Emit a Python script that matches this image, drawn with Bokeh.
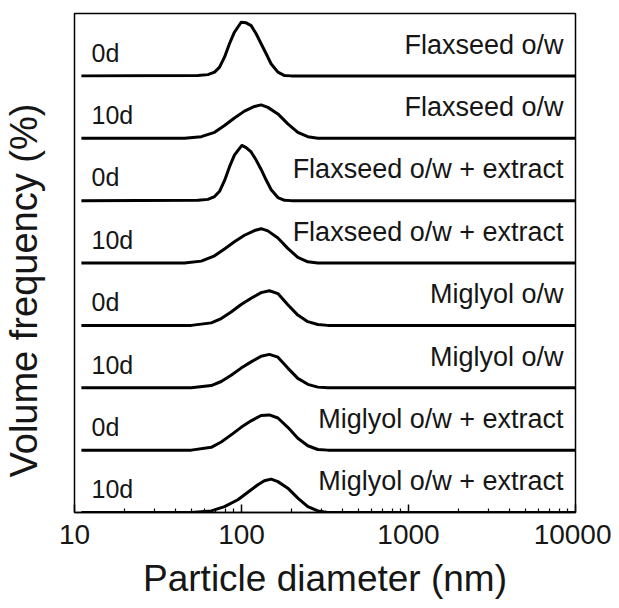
from bokeh.plotting import figure
from bokeh.models import FixedTicker, PrintfTickFormatter, Title
from bokeh.core.properties import value
from bokeh.embed import file_html
from bokeh.resources import INLINE

# ---- data ----
days = ["0d", "10d", "0d", "10d", "0d", "10d", "0d", "10d"]
samples = ["Flaxseed o/w", "Flaxseed o/w",
           "Flaxseed o/w + extract", "Flaxseed o/w + extract",
           "Miglyol o/w", "Miglyol o/w",
           "Miglyol o/w + extract", "Miglyol o/w + extract"]

d_flax_0d = [11, 54.8, 62.9, 69.0, 73.9, 79.1, 84.7, 90.7, 99.5, 106.6, 114.2,
             122.4, 131.1, 140.5, 150.6, 165.2, 180.9, 198.3, 10000]
f_flax_0d = [0, 0.1, 0.4, 1.2, 2.8, 6.0, 10.3, 14.0, 17.2, 17.0, 16.1,
             13.5, 10.3, 7.1, 3.8, 1.2, 0.1, 0, 0]

d_flax_10d = [11, 45.6, 57.4, 69.0, 79.1, 90.7, 104.2, 119.6, 131.1, 143.8,
              165.2, 189.4, 217.4, 249.5, 286.4, 10000]
f_flax_10d = [0, 0, 0.5, 1.9, 4.1, 6.5, 8.7, 10.2, 10.7, 9.9,
              7.8, 4.6, 1.9, 0.5, 0, 0]

d_flaxext_0d = [11, 54.8, 62.9, 69.0, 73.9, 79.1, 84.7, 90.7, 100.5, 106.6, 114.2,
                122.4, 131.1, 140.5, 150.6, 165.2, 180.9, 198.3, 10000]
f_flaxext_0d = [0, 0.1, 0.4, 1.3, 3.0, 6.4, 10.8, 14.6, 17.7, 17.0, 15.6,
                13.0, 10.0, 6.6, 3.5, 1.0, 0.1, 0, 0]

d_flaxext_10d = [11, 45.6, 57.4, 69.0, 79.1, 90.7, 104.2, 119.6, 131.1, 143.8,
                 165.2, 189.4, 217.4, 249.5, 286.4, 10000]
f_flaxext_10d = [0, 0, 0.6, 2.3, 4.5, 6.8, 8.9, 10.4, 11.0, 10.3,
                 8.0, 4.7, 1.8, 0.4, 0, 0]

d_mig_0d = [11, 50.0, 65.9, 75.6, 86.7, 99.5, 114.2, 131.1, 146.9, 165.2,
            189.4, 217.4, 249.5, 286.4, 328.2, 10000]
f_mig_0d = [0, 0, 0.8, 2.2, 4.3, 6.7, 8.7, 10.5, 11.1, 10.2,
            6.6, 3.3, 1.2, 0.3, 0, 0]

d_mig_10d = [11, 50.0, 65.9, 75.6, 86.7, 99.5, 114.2, 131.1, 146.9, 165.2,
             189.4, 217.4, 249.5, 286.4, 328.2, 10000]
f_mig_10d = [0, 0, 0.7, 2.0, 4.0, 6.3, 8.3, 10.1, 10.7, 9.8,
             6.3, 3.0, 1.1, 0.2, 0, 0]

d_migext_0d = [11, 50.0, 65.9, 75.6, 86.7, 99.5, 114.2, 131.1, 146.9, 165.2,
               189.4, 217.4, 249.5, 286.4, 328.2, 10000]
f_migext_0d = [0, 0, 0.9, 2.6, 4.9, 7.3, 9.4, 11.1, 11.3, 10.3,
               7.3, 3.8, 1.4, 0.2, 0, 0]

d_migext_10d = [11, 50.0, 65.9, 79.1, 95.1, 109.2, 125.3, 137.1, 150.6, 165.2,
                189.4, 217.4, 249.5, 286.4, 328.2, 10000]
f_migext_10d = [0, 0, 0.5, 1.9, 4.1, 6.5, 8.9, 10.2, 10.7, 9.9,
                7.8, 4.6, 1.9, 0.5, 0, 0]

series = [(d_flax_0d, f_flax_0d), (d_flax_10d, f_flax_10d),
          (d_flaxext_0d, f_flaxext_0d), (d_flaxext_10d, f_flaxext_10d),
          (d_mig_0d, f_mig_0d), (d_mig_10d, f_mig_10d),
          (d_migext_0d, f_migext_0d), (d_migext_10d, f_migext_10d)]

x_ticks = [10, 100, 1000, 10000]
panel_step = 20.0
n = len(series)

FONT = "Liberation Sans"
TXT = "#161616"

p = figure(width=611, height=608, x_axis_type="log",
           x_range=(10, 10000), y_range=(0, n * panel_step),
           output_backend="svg", toolbar_location=None,
           min_border_left=73, min_border_right=36,
           min_border_top=13, min_border_bottom=96)

for i, (d, f) in enumerate(series):
    base = (n - 1 - i) * panel_step
    p.line(d, [base + v for v in f], line_color="black", line_width=3,
           line_join="round")

mids = [(n - 1 - i) * panel_step + panel_step / 2 for i in range(n)]
p.text(x=[10] * n, y=mids, text=days, x_offset=17, y_offset=8,
       text_font=value(FONT), text_font_size="25px", text_color=TXT,
       text_align="left", text_baseline="middle")
p.text(x=[10000] * n, y=mids, text=samples, x_offset=-12, y_offset=0,
       text_font=value(FONT), text_font_size="27px", text_color=TXT,
       text_align="right", text_baseline="middle")

minor = [m * 10 ** e for e in range(1, 4) for m in range(2, 10)]
ax = p.xaxis[0]
ax.ticker = FixedTicker(ticks=x_ticks, minor_ticks=minor)
ax.formatter = PrintfTickFormatter(format="%d")
ax.major_tick_in = 8
ax.major_tick_out = 0
ax.minor_tick_in = 4
ax.minor_tick_out = 0
ax.major_tick_line_width = 1.5
ax.minor_tick_line_width = 1.2
ax.axis_line_width = 1.5
ax.major_label_standoff = 12
ax.major_label_text_font = FONT
ax.major_label_text_font_size = "28px"
ax.major_label_text_color = TXT
ax.axis_label = "Particle diameter (nm)"
ax.axis_label_text_font = FONT
ax.axis_label_text_font_size = "37px"
ax.axis_label_text_font_style = "normal"
ax.axis_label_text_color = TXT
ax.axis_label_standoff = 11

# left axis: one invisible tick with blank label; only reserves space
# between the frame and the rotated title
yax = p.yaxis[0]
yax.ticker = FixedTicker(ticks=[n * panel_step / 2], minor_ticks=[])
yax.major_label_overrides = {n * panel_step / 2: ""}
yax.major_tick_line_color = None
yax.major_tick_in = 0
yax.major_tick_out = 30
yax.minor_tick_in = 0
yax.minor_tick_out = 0
yax.major_label_standoff = 0
yax.axis_label_standoff = 0
yax.axis_line_color = None

p.xgrid.visible = False
p.ygrid.visible = False
p.outline_line_color = "black"
p.outline_line_width = 1.5

p.add_layout(Title(text="Volume frequency (%)", align="left", offset=35,
                   standoff=0, text_font=FONT, text_font_size="38px",
                   text_font_style="normal", text_color=TXT), "left")

open("out.html", "w").write(file_html(p, INLINE))
